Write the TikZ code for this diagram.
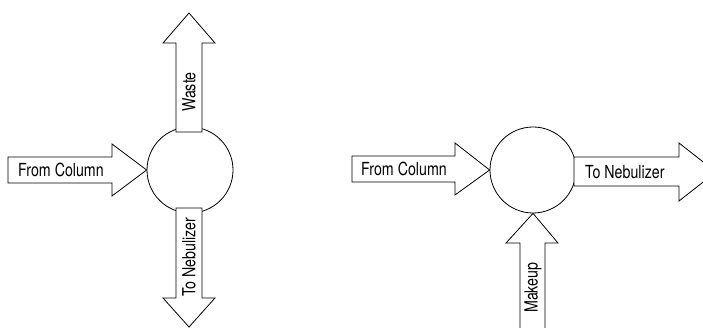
\documentclass[tikz,border=0pt]{standalone}
\usepackage{fontspec}
\newfontfamily\narrowsf{TeX Gyre Heros}[FakeStretch=0.79]
\usetikzlibrary{positioning}

\tikzset{
  junction/.style={draw, circle, line width=0.8pt, minimum size=86pt, inner sep=0pt},
  blockarrow/.style={draw, fill=white, line width=0.8pt, line join=miter},
  flowlabel/.style={font=\narrowsf\fontsize{18}{20}\selectfont, inner sep=0pt}
}

\begin{document}
\begin{tikzpicture}[x=1pt,y=-1pt]
    \useasboundingbox (0,0) rectangle (703,328);
    \clip (0,0) rectangle (703,328);

    % Split tee
    \node[junction] (splittee) at (190,170) {};

    % Waste (up)
    \draw[blockarrow] (176,132) -- (176,43) -- (163,43) -- (189,13) -- (215,43) -- (202,43) -- (202,132) -- cycle;
    \node[flowlabel, rotate=90, anchor=west] (waste) at (189,112) {Waste};

    % From Column (in)
    \draw[blockarrow] (8,157) -- (112,157) -- (112,144) -- (splittee.west) -- (112,196) -- (112,183) -- (8,183) -- cycle;
    \node[flowlabel, anchor=west] (incol1) at (18,170) {From Column};

    % To Nebulizer (down)
    \draw[blockarrow] (176,208) -- (202,208) -- (202,298) -- (215,298) -- (189,327) -- (163,298) -- (176,298) -- cycle;
    \node[flowlabel, rotate=90, anchor=west] (toneb1) at (189,297) {To Nebulizer};

    % Makeup tee
    \node[junction] (makeuptee) at (533,170) {};

    % From Column (in)
    \draw[blockarrow] (352,156) -- (455,156) -- (455,143) -- (makeuptee.west) -- (455,195) -- (455,182) -- (352,182) -- cycle;
    \node[flowlabel, anchor=west] (incol2) at (361,169) {From Column};

    % To Nebulizer (out)
    \draw[blockarrow] (574,157) -- (679,157) -- (679,143) -- (716,172) -- (679,201) -- (679,186) -- (574,186) -- cycle;
    \node[flowlabel, anchor=west] (toneb2) at (585,172) {To Nebulizer};

    % Makeup (up)
    \draw[blockarrow] (520,340) -- (520,243) -- (506,243) -- (makeuptee.south) -- (558,243) -- (545,243) -- (545,340);
    \node[flowlabel, rotate=90, anchor=west] (makeup) at (533,313) {Makeup};
\end{tikzpicture}
\end{document}
